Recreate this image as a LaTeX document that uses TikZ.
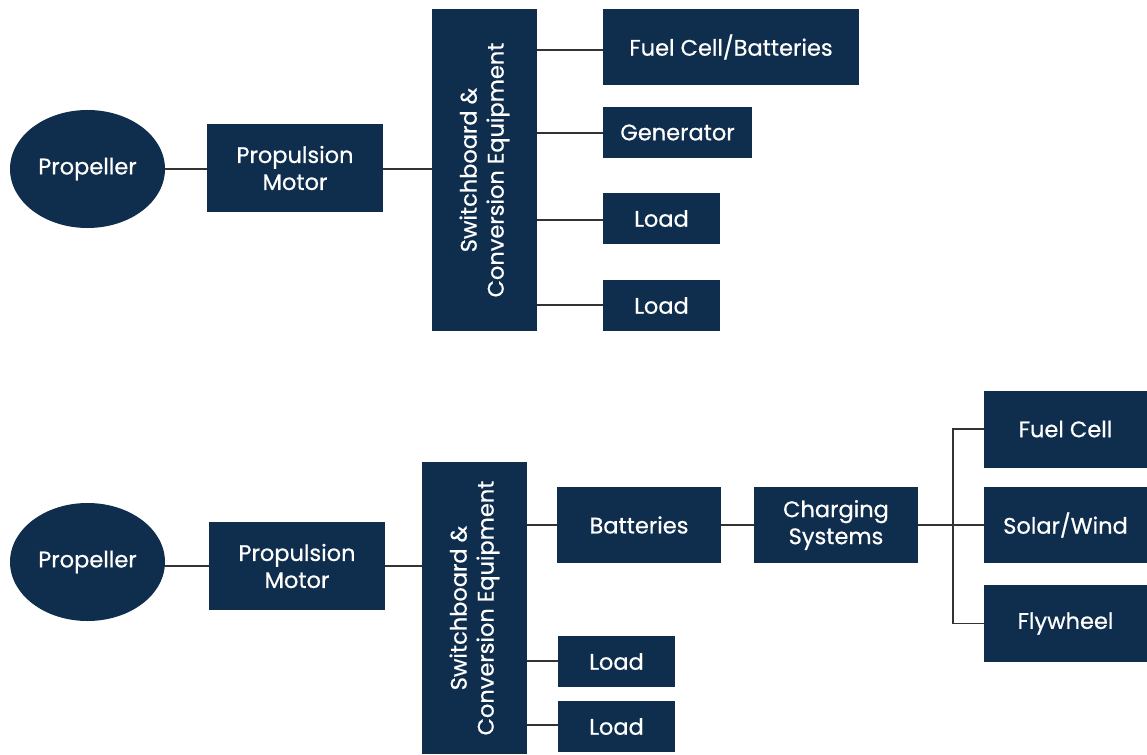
\documentclass[tikz,border=0pt]{standalone}
\usepackage{fontspec}
\setmainfont{Poppins}[UprightFeatures={FakeBold=0.6}]
\usetikzlibrary{shapes.geometric}
\definecolor{navy}{HTML}{0F2D4C}
\definecolor{wire}{HTML}{333333}
\tikzset{
  blk/.style={fill=navy, text=white, inner sep=0pt, align=center,
    font=\fontsize{22.5}{27}\selectfont},
  oval/.style={blk, ellipse},
  link/.style={draw=wire, line width=1.8pt}
}
\begin{document}
\begin{tikzpicture}[x=1pt, y=-1pt]
\useasboundingbox (0,0) rectangle (1147,754);

% ---------- upper system ----------
\node[oval, minimum width=155, minimum height=118] (p1) at (87.5,169) {Propeller};
\node[blk, minimum width=176, minimum height=88] (m1) at (295,168) {Propulsion\\Motor};
\node[blk, minimum width=105, minimum height=322] (s1) at (484.5,170) {};
\node[blk, rotate=90, fill=none] at (s1.center) {Switchboard \&\\Conversion Equipment};
\node[blk, minimum width=256, minimum height=76] (f1) at (731,47) {Fuel Cell/Batteries};
\node[blk, minimum width=149, minimum height=51] (g1) at (677.5,132.5) {Generator};
\node[blk, minimum width=117, minimum height=51] (l1) at (661.5,218.5) {Load};
\node[blk, minimum width=117, minimum height=51] (l2) at (661.5,305.5) {Load};

\draw[link] (p1.east |- 0,169) -- (m1.west |- 0,169);
\draw[link] (m1.east |- 0,169) -- (s1.west |- 0,169);
\draw[link] (s1.east |- 0,50) -- (f1.west |- 0,50);
\draw[link] (s1.east |- 0,133) -- (g1.west |- 0,133);
\draw[link] (s1.east |- 0,220) -- (l1.west |- 0,220);
\draw[link] (s1.east |- 0,305) -- (l2.west |- 0,305);

% ---------- lower system ----------
\node[oval, minimum width=155, minimum height=118] (p2) at (87.5,562) {Propeller};
\node[blk, minimum width=176, minimum height=88] (m2) at (297,566) {Propulsion\\Motor};
\node[blk, minimum width=105, minimum height=292] (s2) at (474.5,608) {};
\node[blk, rotate=90, fill=none] at (s2.center) {Switchboard \&\\Conversion Equipment};
\node[blk, minimum width=164, minimum height=76] (b2) at (639,525) {Batteries};
\node[blk, minimum width=117, minimum height=51] (l3) at (616.5,661.5) {Load};
\node[blk, minimum width=117, minimum height=51] (l4) at (616.5,726.5) {Load};
\node[blk, minimum width=164, minimum height=76] (c2) at (836,525) {Charging\\Systems};
\node[blk, minimum width=163, minimum height=77] (fc) at (1065.5,429) {Fuel Cell};
\node[blk, minimum width=163, minimum height=76] (sw) at (1065.5,525) {Solar/Wind};
\node[blk, minimum width=163, minimum height=77] (fw) at (1065.5,623.5) {Flywheel};
\coordinate (hub) at (953,525);

\draw[link] (p2.east |- 0,566) -- (m2.west |- 0,566);
\draw[link] (m2.east |- 0,566) -- (s2.west |- 0,566);
\draw[link] (s2.east |- 0,525) -- (b2.west |- 0,525);
\draw[link] (s2.east |- 0,661) -- (l3.west |- 0,661);
\draw[link] (s2.east |- 0,725) -- (l4.west |- 0,725);
\draw[link] (b2.east) -- (c2.west);
\draw[link] (c2.east) -- (sw.west);
\draw[link] (fc.west) -| (hub) |- (fw.west);
\end{tikzpicture}
\end{document}
